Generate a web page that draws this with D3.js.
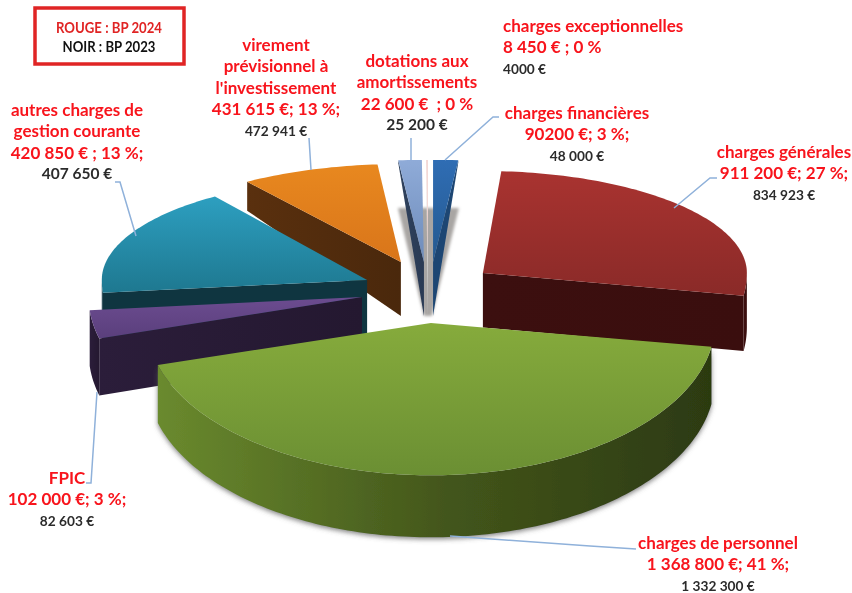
<!DOCTYPE html>
<html><head><meta charset="utf-8">
<script src="https://cdn.jsdelivr.net/npm/d3@7"></script>
<style>
html,body{margin:0;padding:0;background:#fff;}
svg{display:block;filter:blur(.45px);}
text{font-family:Lato,"Open Sans",sans-serif;font-weight:700;}
</style></head><body>
<svg id="chart" width="852" height="593"></svg>
<script>
// ---- data
const categories = ["charges financières","charges générales","charges de personnel","FPIC",
  "autres charges de gestion courante","virement prévisionnel à l'investissement",
  "dotations aux amortissements","charges exceptionnelles"];
const budget2024Text = ["90200 €; 3 %;","911 200 €; 27 %;","1 368 800 €; 41 %;","102 000 €; 3 %;",
  "420 850 € ; 13 %;","431 615 €; 13 %;","22 600 €  ; 0 %","8 450 € ; 0 %"];
const budget2023Text = ["48 000 €","834 923 €","1 332 300 €","82 603 €","407 650 €","472 941 €","25 200 €","4000 €"];
// angular width of each slice as drawn in the picture (degrees; the drawing is not strictly proportional)
const drawnDegrees = [4,95,155,11,60,30,4.6,0.4];
const topColors  = [["#2f6db4","#25598f"],["#a93330","#8a2a28"],["#86ab3c","#6b8f33"],["#6c4c90","#5a3f7c"],
  ["#2d9fc0","#1e7890"],["#e8881f","#d9751a"],["#8fabd8","#6e8cba"],["#f3d7d4","#f3d7d4"]];
const wallColors = [["#1d4673","#1d4673"],["#3c0f0f","#3a0e0e"],["#6a8a2e","#2c3a11"],["#2b1d3a","#241830"],
  ["#0f3540","#0f3540"],["#5a300e","#4a280c"],["#2f425e","#2a3a54"],["#ddd","#ddd"]];
// slice geometry, in units of the pie radius
const explodeX = [0.03,0.216,0.022,-0.235,-0.216,-0.09,-0.004,0.011];
const explodeY = [0.324,0.216,-0.275,-0.02,0.147,0.324,0.324,0.324];
const rimX = [1.35,0.985,1.06,1.02,0.99,1,1.1,1];
const rimY = [1,1,1.05,1.04,1,0.96,1,1];
const paintOrder = [5,6,7,0,1,4,3,2];

// label layout
const labelLines = [
 {i:7,x:503,a:"start",name:["charges exceptionnelles"],y:31},
 {i:6,x:417,a:"middle",name:["dotations aux","amortissements"],y:66},
 {i:0,x:577,a:"middle",name:["charges financières"],y:118},
 {i:1,x:784,a:"middle",name:["charges générales"],y:157},
 {i:5,x:276,a:"middle",name:["virement","prévisionnel à","l'investissement"],y:50},
 {i:4,x:77,a:"middle",name:["autres charges de","gestion courante"],y:115},
 {i:3,x:67,a:"middle",name:["FPIC"],y:483},
 {i:2,x:718,a:"middle",name:["charges de personnel"],y:548}
];
const blackSizes = [13.7,13.7,13.7,13.7,15.5,13.7,15.5,13.7];
const leaders = [
 [[309,138],[311,170]],
 [[411,138],[411,160]],
 [[499,117],[493,117],[445,160]],
 [[717,178],[710,178],[674,208]],
 [[115,182],[120,182],[136,236]],
 [[86,483],[91,483],[97,392]],
 [[636,549],[590,546],[450,536]]
];

const svg = d3.select("#chart");
const defs = svg.append("defs");
const cx=425, cy=295, R=268;
// scales
const xTip = d3.scaleLinear().domain([-1,1]).range([cx-R,cx+R]);
const yTip = d3.scaleLinear().domain([-1,1]).range([cy+102,cy-102]);
const xRim = d3.scaleLinear().domain([-1,1]).range([-R,R]);
const yRim = d3.scaleLinear().domain([-1,0,1]).range([145,0,-102]);
const depth = d3.scaleLinear().domain([160,185,262,473]).range([2,33,54,62]).clamp(true);
const line = d3.line();

const arcs = d3.pie().sort(null).value(d=>d).startAngle(0).endAngle(2*Math.PI)(drawnDegrees);

function grad(id,cols,horizontal,mid){
  const g=defs.append("linearGradient").attr("id",id)
    .attr("x1",0).attr("y1",0).attr("x2",horizontal?1:0).attr("y2",horizontal?0:1);
  g.append("stop").attr("offset","0%").attr("stop-color",cols[0]);
  if(mid) g.append("stop").attr("offset","52%").attr("stop-color",mid);
  g.append("stop").attr("offset","100%").attr("stop-color",cols[1]);
}
const shadow=defs.append("filter").attr("id","soft").attr("x","-20%").attr("y","-20%").attr("width","140%").attr("height","140%");
shadow.append("feDropShadow").attr("dx",0).attr("dy",2).attr("stdDeviation",2.5).attr("flood-color","#555").attr("flood-opacity",.7);
const blur=defs.append("filter").attr("id","blur").attr("x","-30%").attr("y","-30%").attr("width","160%").attr("height","160%");
blur.append("feGaussianBlur").attr("stdDeviation",1.5);

const pieG = svg.append("g");

// grey shadow behind the narrow top slices
const tipFin=[xTip(explodeX[7]),yTip(explodeY[7])];
pieG.append("path").attr("filter","url(#blur)").attr("fill","#a8a5a3")
  .attr("d",line([[tipFin[0]-30,tipFin[1]-54],[tipFin[0]+31,tipFin[1]-54],[tipFin[0]+4,tipFin[1]+54],[tipFin[0]-4,tipFin[1]+54]])+"Z");

function rimPoint(i,t){
  const tx=xTip(explodeX[i]), ty=yTip(explodeY[i]);
  return [tx+xRim(Math.sin(t))*rimX[i], ty+yRim(Math.cos(t))*rimY[i]];
}
function drop(p){return [p[0],p[1]+depth(p[1])];}
function rim(i,a0,a1){
  const n=Math.max(2,Math.ceil((a1-a0)/0.02));
  return d3.range(n+1).map(k=>rimPoint(i,a0+(a1-a0)*k/n));
}

paintOrder.forEach(i=>{
  const a=arcs[i], tip=[xTip(explodeX[i]),yTip(explodeY[i])];
  grad("top"+i,topColors[i],false);
  grad("wall"+i,wallColors[i],true,i===2?"#43561b":null);
  const g=pieG.append("g").attr("class","slice").datum(categories[i]);
  const wall=pts=>g.append("path").attr("d",line(pts)+"Z").attr("fill",`url(#wall${i})`);
  // cut walls facing the viewer
  if(Math.sin(a.startAngle)<0){
    const p=rimPoint(i,a.startAngle);
    wall([p,tip,drop(tip),drop(p)]);
  }
  if(Math.sin(a.endAngle)>0){
    const p=rimPoint(i,a.endAngle);
    wall([tip,p,drop(p),drop(tip)]);
  }
  // curved wall facing the viewer
  const f0=Math.max(a.startAngle,Math.PI/2), f1=Math.min(a.endAngle,3*Math.PI/2);
  if(f1>f0){
    const r=rim(i,f0,f1);
    wall(r.concat(r.map(drop).reverse())).attr("filter",i===2?"url(#soft)":null);
  }
  // top face
  g.append("path").attr("d",line([tip].concat(rim(i,a.startAngle,a.endAngle)))+"Z")
    .attr("fill",`url(#top${i})`);
});

// leader lines
svg.append("g").selectAll("path").data(leaders).join("path")
  .attr("d",d=>line(d)).attr("fill","none").attr("stroke","#8fb1da").attr("stroke-width",1.5);

// labels
const redFont=17, step=21.5;
const labels=svg.append("g");
labelLines.forEach(l=>{
  const g=labels.append("g");
  const rows=l.name.concat([budget2024Text[l.i]]);
  rows.forEach((t,k)=>g.append("text").attr("x",l.x).attr("y",l.y+0.5+k*step).attr("text-anchor",l.a)
    .attr("font-size",redFont).attr("fill","#f8141c").attr("xml:space","preserve").style("white-space","pre").text(t));
  g.append("text").attr("x",l.x).attr("y",l.y+rows.length*step-0.5).attr("text-anchor",l.a)
    .attr("font-size",blackSizes[l.i]).attr("fill","#2b2b2b").text(budget2023Text[l.i]);
});

// legend box
svg.append("rect").attr("x",35).attr("y",8).attr("width",149).attr("height",56)
  .attr("fill","#fff").attr("stroke","#e02424").attr("stroke-width",3.5);
svg.append("text").attr("x",109).attr("y",33).attr("text-anchor","middle").attr("font-size",15).attr("fill","#e02424")
  .attr("textLength",106).attr("lengthAdjust","spacingAndGlyphs").text("ROUGE : BP 2024");
svg.append("text").attr("x",109).attr("y",52).attr("text-anchor","middle").attr("font-size",15).attr("fill","#111")
  .attr("textLength",93).attr("lengthAdjust","spacingAndGlyphs").text("NOIR : BP 2023");
</script>
</body></html>
